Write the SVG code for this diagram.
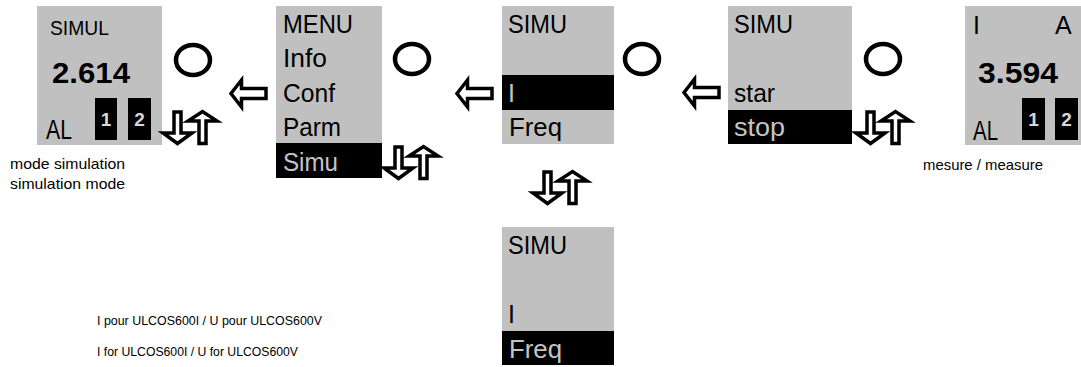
<svg xmlns="http://www.w3.org/2000/svg" width="1081" height="367" viewBox="0 0 1081 367">
<style>
.scr{fill:#c0c0c0}
.sel{fill:#000}
.t{font-family:"Liberation Sans",Arial,sans-serif;font-size:25px;fill:#000}
.tl{font-family:"Liberation Sans",Arial,sans-serif;font-size:25px;fill:#c4c4c4}
.big{font-family:"Liberation Sans",Arial,sans-serif;font-size:30px;font-weight:bold;fill:#000}
.al{font-family:"Liberation Sans",Arial,sans-serif;font-size:28px;fill:#000}
.dg{font-family:"Liberation Sans",Arial,sans-serif;font-size:19px;font-weight:bold;fill:#d8d8d8;text-anchor:middle}
.cap{font-family:"Liberation Sans",Arial,sans-serif;font-size:15px;fill:#000}
.note{font-family:"Liberation Sans",Arial,sans-serif;font-size:12.5px;fill:#000}
.btn{fill:none;stroke:#000;stroke-width:4.5}
.arr{fill:#fff;stroke:#000;stroke-width:3.5;stroke-linejoin:miter}
</style>
<defs>
<g id="left">
<polygon class="arr" points="2,15.5 12.5,2 12.5,10.5 37,10.5 37,20.5 12.5,20.5 12.5,29"/>
</g>
<g id="updown">
<polygon class="arr" points="15,2 22,2 22,23 33,23 18.5,33.5 4,23 15,23"/>
<polygon class="arr" points="40,33.5 47,33.5 47,11 58,11 43.5,1.5 29,11 40,11"/>
</g>
</defs>

<g id="node-simul">
<rect class="scr" x="37" y="6" width="125" height="139"/>
<text class="t" x="50" y="35" style="font-size:21px" textLength="59" lengthAdjust="spacingAndGlyphs">SIMUL</text>
<text class="big" x="52" y="83" textLength="78" lengthAdjust="spacingAndGlyphs">2.614</text>
<text class="al" x="46" y="139" textLength="26" lengthAdjust="spacingAndGlyphs">AL</text>
<rect class="sel" x="95" y="98" width="22" height="42"/>
<text class="dg" x="106" y="126">1</text>
<rect class="sel" x="128" y="98" width="23" height="42"/>
<text class="dg" x="139.5" y="126">2</text>
</g>

<g id="node-menu">
<rect class="scr" x="276" y="6" width="106" height="137"/>
<rect class="sel" x="276" y="143" width="106" height="35"/>
<text class="t" x="283" y="33" textLength="70" lengthAdjust="spacingAndGlyphs">MENU</text>
<text class="t" x="283" y="67" textLength="44" lengthAdjust="spacingAndGlyphs">Info</text>
<text class="t" x="283" y="102" textLength="52" lengthAdjust="spacingAndGlyphs">Conf</text>
<text class="t" x="283" y="136" textLength="58" lengthAdjust="spacingAndGlyphs">Parm</text>
<text class="tl" x="283" y="171" textLength="55" lengthAdjust="spacingAndGlyphs">Simu</text>
</g>

<g id="node-simu-i">
<rect class="scr" x="502" y="6" width="112" height="138"/>
<rect class="sel" x="502" y="75" width="112" height="35"/>
<text class="t" x="508" y="33" textLength="59" lengthAdjust="spacingAndGlyphs">SIMU</text>
<text class="tl" x="508" y="102">I</text>
<text class="t" x="509" y="136" textLength="53" lengthAdjust="spacingAndGlyphs">Freq</text>
</g>

<g id="node-simu-stop">
<rect class="scr" x="728" y="6" width="124" height="104"/>
<rect class="sel" x="728" y="110" width="124" height="34"/>
<text class="t" x="734" y="33" textLength="59" lengthAdjust="spacingAndGlyphs">SIMU</text>
<text class="t" x="734" y="102" textLength="41" lengthAdjust="spacingAndGlyphs">star</text>
<text class="tl" x="734" y="136" textLength="51" lengthAdjust="spacingAndGlyphs">stop</text>
</g>

<g id="node-measure">
<rect class="scr" x="965" y="6" width="116" height="139"/>
<text class="t" x="973" y="34">I</text>
<text class="t" x="1055" y="34">A</text>
<text class="big" x="978" y="83" textLength="80" lengthAdjust="spacingAndGlyphs">3.594</text>
<text class="al" x="973" y="140" textLength="25" lengthAdjust="spacingAndGlyphs">AL</text>
<rect class="sel" x="1022" y="98" width="23" height="42"/>
<text class="dg" x="1033.5" y="126">1</text>
<rect class="sel" x="1055" y="98" width="23" height="42"/>
<text class="dg" x="1066.5" y="126">2</text>
</g>

<g id="node-simu-freq">
<rect class="scr" x="502" y="227" width="112" height="104"/>
<rect class="sel" x="502" y="331" width="112" height="34"/>
<text class="t" x="508" y="254" textLength="59" lengthAdjust="spacingAndGlyphs">SIMU</text>
<text class="t" x="508" y="323">I</text>
<text class="tl" x="509" y="358" textLength="53" lengthAdjust="spacingAndGlyphs">Freq</text>
</g>

<g id="buttons">
<ellipse class="btn" cx="193" cy="60" rx="17" ry="15"/>
<ellipse class="btn" cx="412" cy="59" rx="17" ry="15"/>
<ellipse class="btn" cx="642" cy="59" rx="17" ry="15"/>
<ellipse class="btn" cx="883" cy="59" rx="17" ry="15"/>
</g>

<g id="connectors">
<use href="#left" x="229" y="78"/>
<use href="#left" x="455" y="78"/>
<use href="#left" x="682" y="77"/>
<use href="#updown" x="159" y="110"/>
<use href="#updown" x="380" y="145"/>
<use href="#updown" x="529" y="170"/>
<use href="#updown" x="852" y="110"/>
</g>

<g id="captions">
<text class="cap" x="10" y="169" textLength="115" lengthAdjust="spacingAndGlyphs">mode simulation</text>
<text class="cap" x="10" y="189" textLength="115" lengthAdjust="spacingAndGlyphs">simulation mode</text>
<text class="cap" x="923" y="170" textLength="120" lengthAdjust="spacingAndGlyphs">mesure / measure</text>
<text class="note" x="97" y="325" textLength="225" lengthAdjust="spacingAndGlyphs">I pour ULCOS600I / U pour ULCOS600V</text>
<text class="note" x="97" y="356" textLength="201" lengthAdjust="spacingAndGlyphs">I for ULCOS600I / U for ULCOS600V</text>
</g>
</svg>
